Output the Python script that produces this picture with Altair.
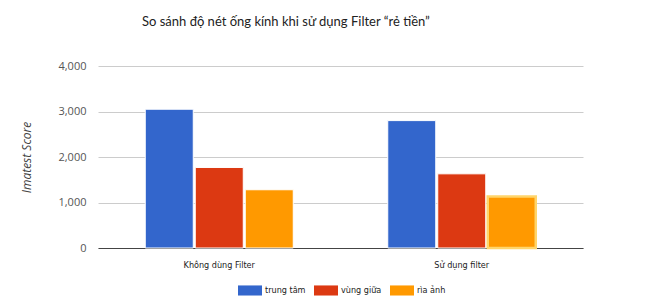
import altair as alt
import pandas as pd

groups = ["Không dùng Filter", "Sử dụng filter"]
zones = ["trung tâm", "vùng giữa", "rìa ảnh"]
colors = ["#3366cc", "#dc3912", "#ff9900"]
values_no_filter = [3050, 1770, 1280]
values_filter = [2800, 1630, 1130]

rows = []
for g, vals in zip(groups, [values_no_filter, values_filter]):
    for z, v in zip(zones, vals):
        rows.append({"group": g, "zone": z, "score": v})
df = pd.DataFrame(rows)

title = "So sánh độ nét ống kính khi sử dụng Filter \u201crẻ tiền\u201d"

is_special = (alt.datum.group == groups[1]) & (alt.datum.zone == zones[2])

bars = alt.Chart(df).mark_bar(stroke="white", strokeWidth=1).encode(
    x=alt.X("group:N", sort=groups,
            scale=alt.Scale(paddingInner=0, paddingOuter=0),
            axis=alt.Axis(title=None, labelAngle=0, ticks=False, domain=True,
                          grid=False,
                          domainColor="#444", domainWidth=1.2,
                          labelFont="DejaVu Sans Condensed", labelFontSize=9,
                          labelColor="#222", labelPadding=12)),
    xOffset=alt.XOffset("zone:N", sort=zones,
                        scale=alt.Scale(paddingInner=0.04, paddingOuter=0.945)),
    y=alt.Y("score:Q",
            scale=alt.Scale(domain=[0, 4000]),
            axis=alt.Axis(values=[0, 1000, 2000, 3000, 4000], format=",.0f",
                          title="Imatest Score", titleFontStyle="italic",
                          titleFont="Open Sans", titleFontWeight="normal",
                          titleFontSize=12, titleColor="#444",
                          titleX=-65, titleY=91, titleAngle=-90,
                          labelFont="Open Sans", labelFontSize=11,
                          labelColor="#555", labelPadding=12,
                          ticks=False, domain=False,
                          gridColor="#cccccc", gridWidth=1)),
    color=alt.Color("zone:N", scale=alt.Scale(domain=zones, range=colors),
                    legend=alt.Legend(title=None, orient="none",
                                      direction="horizontal",
                                      legendX=140, legendY=212,
                                      symbolType="M-1,-0.42H1V0.42H-1Z",
                                      symbolSize=576, symbolStrokeWidth=0,
                                      labelFont="DejaVu Sans Condensed",
                                      labelFontSize=9, labelColor="#222",
                                      labelOffset=3, columnPadding=8)),
    stroke=alt.condition(is_special, alt.value("#ffd56b"), alt.value("white")),
    strokeWidth=alt.condition(is_special, alt.value(2.5), alt.value(1)),
)

chart = bars.properties(
    width=485, height=182,
    background="white",
    title=alt.TitleParams(title, anchor="start", frame="group", dx=44, offset=31,
                          font="Lato", fontSize=13, fontWeight="normal",
                          color="#222"),
    autosize=alt.AutoSizeParams(type="none"),
    padding={"left": 98, "top": 66, "right": 67, "bottom": 52},
).configure_view(stroke="transparent", strokeWidth=0)

chart.save("out.html", embed_options={"renderer": "svg", "actions": False})
